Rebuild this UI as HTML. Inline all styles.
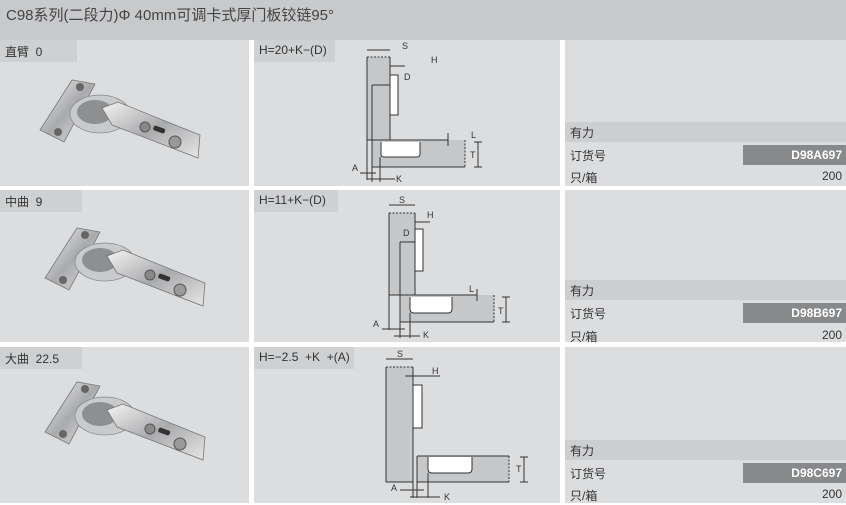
<!DOCTYPE html>
<html><head><meta charset="utf-8"><style>
*{margin:0;padding:0}
body{width:846px;height:503px;background:#fff;position:relative;overflow:hidden;font-family:"Liberation Sans","Noto Sans CJK SC",sans-serif;color:#333}
.a{position:absolute}
.hd{left:0;top:0;width:846px;height:40px;background:#c8c9cb;font-size:15px;color:#444;padding:4px 0 0 6px;box-sizing:border-box}
.p{background:#dcdddf}
.lb{background:#cfd0d2;font-size:12px;padding:3px 0 0 5px;box-sizing:border-box;height:22px}
.r{font-size:12px;box-sizing:border-box;padding:2px 0 0 5px;height:20px;width:281px;left:565px}
.dk{background:#88898b;color:#fff;font-weight:bold;text-align:right;padding:3px 4px 0 0;box-sizing:border-box;font-size:12px;left:743px;width:103px;height:20px}
</style></head><body>
<div class="a hd">C98系列(二段力)Φ 40mm可调卡式厚门板铰链95°</div>

<div class="a p" style="left:0;top:40px;width:249px;height:146px"></div>
<div class="a p" style="left:254px;top:40px;width:306px;height:146px"></div>
<div class="a p" style="left:565px;top:40px;width:281px;height:146px"></div>
<div class="a p" style="left:0;top:190px;width:249px;height:152px"></div>
<div class="a p" style="left:254px;top:190px;width:306px;height:152px"></div>
<div class="a p" style="left:565px;top:190px;width:281px;height:152px"></div>
<div class="a p" style="left:0;top:347px;width:249px;height:156px"></div>
<div class="a p" style="left:254px;top:347px;width:306px;height:156px"></div>
<div class="a p" style="left:565px;top:347px;width:281px;height:156px"></div>

<div class="a lb" style="left:0;top:40px;width:77px">直臂&nbsp; 0</div>
<div class="a lb" style="left:0;top:190px;width:82px">中曲&nbsp; 9</div>
<div class="a lb" style="left:0;top:347px;width:82px">大曲&nbsp; 22.5</div>
<div class="a lb" style="left:254px;top:40px;width:81px">H=20+K−(D)</div>
<div class="a lb" style="left:254px;top:190px;width:84px">H=11+K−(D)</div>
<div class="a lb" style="left:254px;top:347px;width:100px">H=−2.5&nbsp; +K&nbsp; +(A)</div>

<div class="a r" style="top:122px;background:#cdced0">有力</div>
<div class="a r" style="top:145px;background:#dcdddf">订货号</div>
<div class="a dk" style="top:145px">D98A697</div>
<div class="a r" style="top:167px">只/箱<span style="float:right;padding-right:4px">200</span></div>

<div class="a r" style="top:280px;background:#cdced0">有力</div>
<div class="a r" style="top:303px">订货号</div>
<div class="a dk" style="top:303px">D98B697</div>
<div class="a r" style="top:326px">只/箱<span style="float:right;padding-right:4px">200</span></div>

<div class="a r" style="top:440px;background:#cdced0">有力</div>
<div class="a r" style="top:463px">订货号</div>
<div class="a dk" style="top:463px">D98C697</div>
<div class="a r" style="top:485px">只/箱<span style="float:right;padding-right:4px">200</span></div>

<svg class="a" style="left:0;top:0" width="846" height="503" font-family="Liberation Sans, sans-serif" font-size="9" fill="#333">
<defs>
<linearGradient id="m" x1="0" y1="0" x2="1" y2="1"><stop offset="0" stop-color="#f4f4f4"/><stop offset=".5" stop-color="#a9aaac"/><stop offset="1" stop-color="#e6e6e6"/></linearGradient>
<g id="hg">
<polygon points="40,130 72,80 95,84 64,142" fill="url(#m)" stroke="#777" stroke-width=".8"/>
<ellipse cx="100" cy="114" rx="30" ry="19" fill="#c9cacc" stroke="#888" stroke-width=".8"/>
<ellipse cx="95" cy="112" rx="18" ry="12" fill="#8e8f91"/>
<polygon points="102,108 118,102 200,135 198,158 112,125" fill="url(#m)" stroke="#777" stroke-width=".8"/>
<circle cx="80" cy="87" r="4" fill="#666"/><circle cx="58" cy="132" r="4" fill="#666"/>
<circle cx="145" cy="127" r="5" fill="#888" stroke="#555"/>
<rect x="153" y="127" width="12" height="5" rx="2" fill="#333" transform="rotate(20 159 130)"/>
<circle cx="175" cy="142" r="6" fill="#999" stroke="#555"/>
</g>
</defs>
<use href="#hg"/>
<use href="#hg" transform="translate(5,148)"/>
<use href="#hg" transform="translate(5,302)"/>

<g stroke="#333" stroke-width="1" fill="none">
<rect x="367" y="57" width="23" height="83" fill="#c6c7c9" stroke="none"/>
<rect x="372" y="140" width="93" height="27" fill="#c6c7c9" stroke="none"/>
<line x1="367" y1="57" x2="390" y2="57" stroke-dasharray="2,1.5"/>
<line x1="367" y1="57" x2="367" y2="180"/>
<line x1="390" y1="57" x2="390" y2="140"/>
<line x1="372" y1="85" x2="372" y2="182"/>
<line x1="367" y1="140" x2="448" y2="140"/>
<line x1="372" y1="167" x2="465" y2="167"/>
<line x1="465" y1="140" x2="465" y2="167" stroke-dasharray="2,1.5"/>
<rect x="390" y="75" width="8" height="40" fill="#fff"/>
<path d="M381,142 V154 Q381,157 384,157 H417 Q420,157 420,154 V142" fill="#fff"/>
<line x1="367" y1="50" x2="390" y2="50"/><line x1="372" y1="85" x2="390" y2="85"/>
<line x1="390" y1="66" x2="405" y2="66"/><line x1="380" y1="157" x2="380" y2="182"/>
<line x1="478" y1="142" x2="478" y2="167"/><line x1="474" y1="142" x2="482" y2="142"/><line x1="474" y1="167" x2="482" y2="167"/>
<line x1="448" y1="133" x2="448" y2="146"/>
<line x1="360" y1="173" x2="376" y2="173"/><line x1="367" y1="179" x2="395" y2="179"/>
<rect x="389" y="213" width="26" height="82" fill="#c6c7c9" stroke="none"/>
<rect x="400" y="295" width="94" height="27" fill="#c6c7c9" stroke="none"/>
<line x1="389" y1="213" x2="415" y2="213" stroke-dasharray="2,1.5"/>
<line x1="389" y1="213" x2="389" y2="330"/>
<line x1="415" y1="213" x2="415" y2="295"/>
<line x1="400" y1="242" x2="400" y2="338"/>
<line x1="389" y1="295" x2="477" y2="295"/>
<line x1="400" y1="322" x2="494" y2="322"/>
<line x1="494" y1="295" x2="494" y2="322" stroke-dasharray="2,1.5"/>
<rect x="415" y="229" width="8" height="42" fill="#fff"/>
<path d="M410,297 V309 Q410,313 414,313 H448 Q452,313 452,309 V297" fill="#fff"/>
<line x1="389" y1="205" x2="415" y2="205"/><line x1="400" y1="242" x2="415" y2="242"/>
<line x1="415" y1="222" x2="430" y2="222"/><line x1="410" y1="313" x2="410" y2="338"/>
<line x1="506" y1="297" x2="506" y2="322"/><line x1="502" y1="297" x2="510" y2="297"/><line x1="502" y1="322" x2="510" y2="322"/>
<line x1="477" y1="289" x2="477" y2="301"/>
<line x1="382" y1="329" x2="405" y2="329"/><line x1="394" y1="336" x2="420" y2="336"/>
<rect x="386" y="367" width="27" height="115" fill="#c6c7c9" stroke="none"/>
<rect x="417" y="456" width="92" height="26" fill="#c6c7c9" stroke="none"/>
<line x1="386" y1="367" x2="413" y2="367" stroke-dasharray="2,1.5"/>
<line x1="386" y1="367" x2="386" y2="482"/>
<line x1="413" y1="367" x2="413" y2="498"/>
<line x1="386" y1="482" x2="413" y2="482"/>
<line x1="417" y1="456" x2="417" y2="498"/>
<line x1="417" y1="456" x2="509" y2="456"/>
<line x1="417" y1="482" x2="509" y2="482"/>
<line x1="509" y1="456" x2="509" y2="482" stroke-dasharray="2,1.5"/>
<rect x="413" y="385" width="9" height="43" fill="#fff"/>
<path d="M428,457 V469 Q428,473 432,473 H468 Q472,473 472,469 V457" fill="#fff"/>
<line x1="386" y1="359" x2="413" y2="359"/>
<line x1="405" y1="376" x2="440" y2="376"/><line x1="428" y1="473" x2="428" y2="498"/>
<line x1="524" y1="457" x2="524" y2="482"/><line x1="520" y1="457" x2="528" y2="457"/><line x1="520" y1="482" x2="528" y2="482"/>
<line x1="400" y1="490" x2="424" y2="490"/><line x1="410" y1="497" x2="440" y2="497"/>
</g>
<g font-size="9">
<text x="402" y="49">S</text><text x="431" y="63">H</text><text x="404" y="80">D</text><text x="471" y="138">L</text><text x="470" y="158">T</text><text x="352" y="171">A</text><text x="396" y="182">K</text>
<text x="399" y="203">S</text><text x="427" y="218">H</text><text x="403" y="236">D</text><text x="469" y="292">L</text><text x="498" y="314">T</text><text x="373" y="327">A</text><text x="423" y="338">K</text>
<text x="397" y="357">S</text><text x="432" y="374">H</text><text x="516" y="472">T</text><text x="391" y="491">A</text><text x="444" y="500">K</text>
</g>
</svg>
</body></html>
